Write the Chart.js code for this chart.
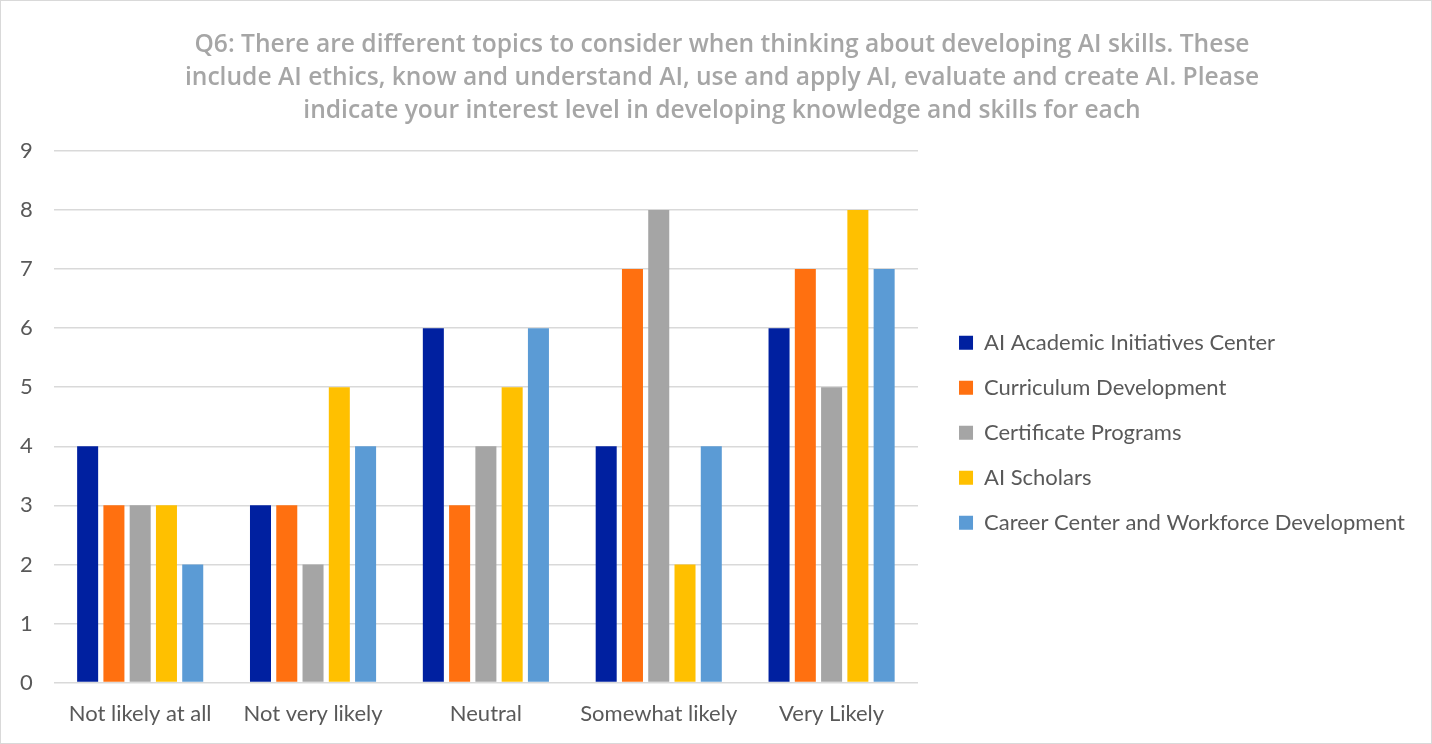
<!DOCTYPE html>
<html><head><meta charset="utf-8">
<script src="https://cdn.jsdelivr.net/npm/chart.js@4.4.0/dist/chart.umd.min.js"></script>
<style>
html,body{margin:0;padding:0;background:#fff;}
#wrap{position:absolute;left:0;top:0;width:1430px;height:742px;border:1px solid #d9d9d9;}
canvas{display:block;}
</style></head>
<body><div id="wrap"><canvas id="c" width="1430" height="742"></canvas></div>
<script>
const categories = ["Not likely at all","Not very likely","Neutral","Somewhat likely","Very Likely"];
const seriesNames = ["AI Academic Initiatives Center","Curriculum Development","Certificate Programs","AI Scholars","Career Center and Workforce Development"];
const academicCenter = [4,3,6,4,6];
const curriculumDev = [3,3,3,7,7];
const certificatePrograms = [3,2,4,8,5];
const aiScholars = [3,5,5,2,8];
const careerCenter = [2,4,6,4,7];
const colors = ["#0020a0","#ff7010","#a5a5a5","#ffc000","#5b9bd5"];
const titleLines = ["Q6: There are different topics to consider when thinking about developing AI skills. These","include AI ethics, know and understand AI, use and apply AI, evaluate and create AI. Please","indicate your interest level in developing knowledge and skills for each"];
const yTicks = [0,1,2,3,4,5,6,7,8,9];

const values = [academicCenter,curriculumDev,certificatePrograms,aiScholars,careerCenter];
const datasets = seriesNames.map((n,i)=>({label:n,data:values[i],backgroundColor:colors[i],borderWidth:0,barPercentage:0.8,categoryPercentage:0.76}));

const layoutShift = {
  id:'layoutShift',
  afterLayout(chart){
    const l = chart.legend;
    if(l){ l.left += 18; l.right += 18; l.top += 16; l.bottom += 16; }
    const t = chart.titleBlock;
    if(t){ t.left += 20; t.right += 20; }
  }
};

new Chart(document.getElementById('c'),{
  type:'bar',
  data:{labels:categories,datasets},
  plugins:[layoutShift],
  options:{
    responsive:false,animation:false,
    layout:{padding:{left:6,right:34,top:0,bottom:6}},
    plugins:{
      title:{display:true,text:titleLines,color:'#a6a6a6',font:{family:'Open Sans',size:24.6,weight:'600',lineHeight:1.34},padding:{top:28,bottom:23}},
      legend:{position:'right',align:'center',fullSize:false,maxWidth:600,labels:{color:'#595959',font:{family:'Lato',size:22},boxWidth:14,boxHeight:14,padding:23}},
      tooltip:{enabled:false}
    },
    scales:{
      x:{grid:{display:false},border:{display:false},ticks:{color:'#595959',font:{family:'Lato',size:22},padding:10}},
      y:{min:0,max:9,afterBuildTicks:(ax)=>{ax.ticks=yTicks.map(v=>({value:v}));},grid:{color:'#d9d9d9',lineWidth:1.5,tickColor:'rgba(0,0,0,0)'},border:{display:false},ticks:{color:'#595959',font:{family:'Lato',size:22},padding:13}}
    }
  }
});
</script></body></html>
